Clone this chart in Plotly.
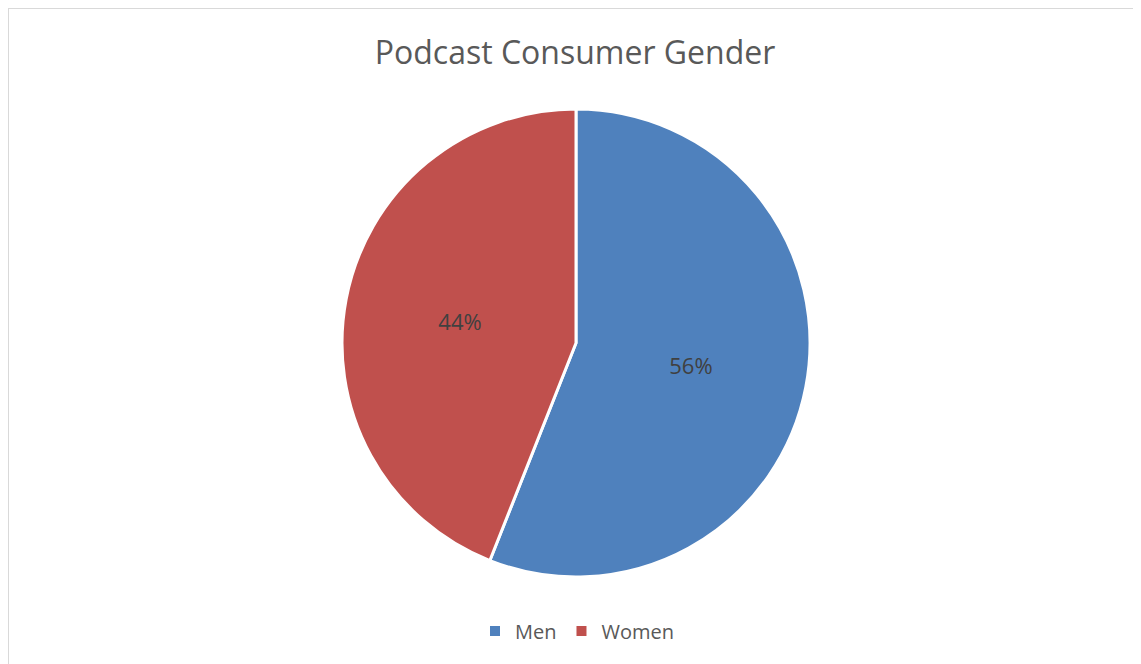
import plotly.graph_objects as go

labels = ["Men", "Women"]
values = [56, 44]
colors = ["#4F81BD", "#C0504D"]

W, H = 1141, 664
OFF = 8  # page body margin
cx, cy, r = 576 - OFF, 343 - OFF, 234

fig = go.Figure(go.Pie(
    labels=labels,
    values=values,
    sort=False,
    direction="clockwise",
    rotation=0,
    marker=dict(colors=colors, line=dict(color="white", width=3)),
    textinfo="percent",
    texttemplate="%{percent:.0%}",
    textposition="inside",
    insidetextorientation="horizontal",
    textfont=dict(family="Open Sans", size=22, color="#404040"),
    domain=dict(x=[(cx - r) / W, (cx + r) / W], y=[(H - cy - r) / H, (H - cy + r) / H]),
    hoverinfo="label+percent",
))

fig.update_layout(
    width=W, height=H,
    margin=dict(l=0, r=0, t=0, b=0),
    paper_bgcolor="white",
    plot_bgcolor="white",
    title=dict(text="Podcast Consumer Gender", x=(575 - OFF) / W, xanchor="center",
               y=1 - (53 - OFF) / H, yanchor="middle", yref="container",
               font=dict(family="Open Sans", size=32, color="#595959")),
    legend=dict(orientation="h", x=(577 - OFF) / W, xanchor="center", y=1 - (631 - OFF) / H,
                yanchor="middle",
                font=dict(family="Open Sans", size=20, color="#595959"),
                itemsizing="constant", itemwidth=30, tracegroupgap=0),
    shapes=[dict(type="rect", xref="paper", yref="paper",
                 x0=0, x1=1.2, y0=-0.2, y1=1,
                 line=dict(color="#D9D9D9", width=2), fillcolor="rgba(0,0,0,0)", layer="below")],
)

fig.write_html("out.html")
